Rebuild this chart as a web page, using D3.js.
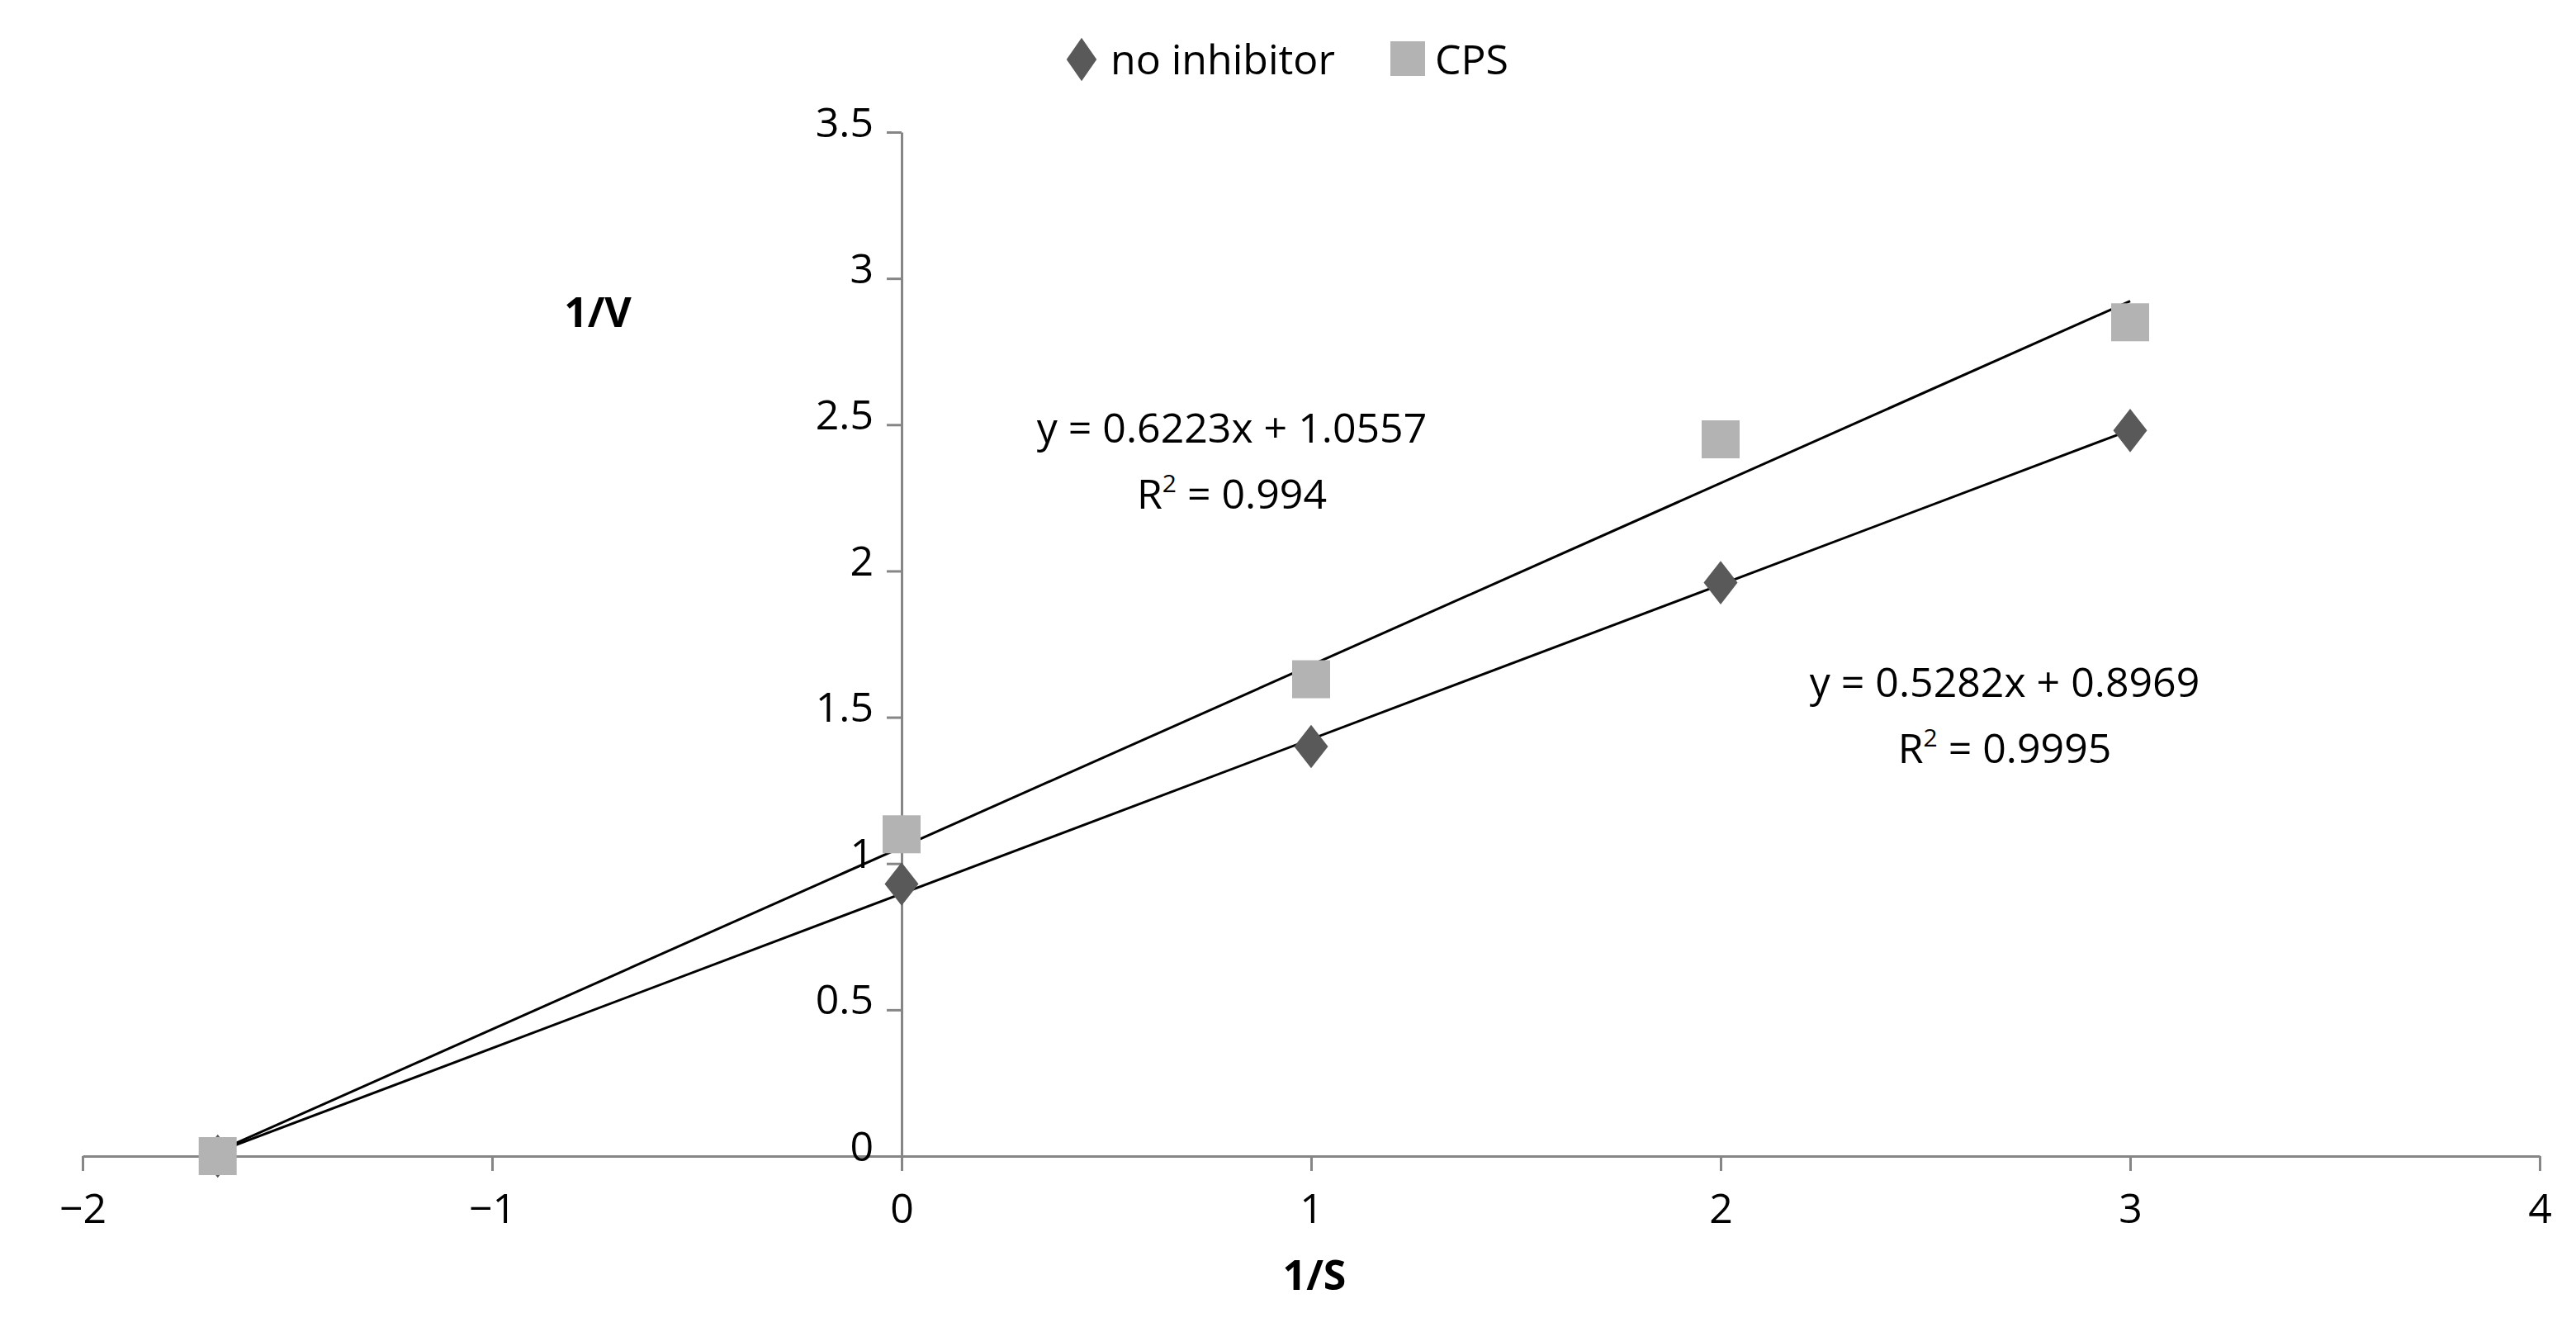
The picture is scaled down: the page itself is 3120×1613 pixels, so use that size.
<!DOCTYPE html>
<html><head><meta charset="utf-8">
<script src="https://cdn.jsdelivr.net/npm/d3@7"></script>
<style>body{margin:0;background:#fff}text{font-family:"Open Sans",sans-serif}</style>
</head><body><div id="chart"></div>
<script>
const WIDTH = 3120, HEIGHT = 1613;

const xValues = [-1.67, 0, 1, 2, 3];
const noInhibitor = [0, 0.93, 1.40, 1.96, 2.48];
const cps = [0, 1.10, 1.63, 2.45, 2.85];
const fitNoInhibitor = {m: 0.5282, b: 0.8969, label: 'y = 0.5282x + 0.8969', r2: '0.9995'};
const fitCps = {m: 0.6223, b: 1.0557, label: 'y = 0.6223x + 1.0557', r2: '0.994'};
const xTicks = [-2, -1, 0, 1, 2, 3, 4];
const yTicks = [0, 0.5, 1, 1.5, 2, 2.5, 3, 3.5];

const svg = d3.select('#chart').append('svg').attr('width', WIDTH).attr('height', HEIGHT);
const x = d3.scaleLinear().domain([-2, 4]).range([100, 3076]);
const y = d3.scaleLinear().domain([0, 3.5]).range([1400, 160]);
const axisColor = '#868686';
const FS = 50;

// x axis
const xAxis = svg.append('g').attr('transform', `translate(0,${y(0)})`)
  .call(d3.axisBottom(x).tickValues(xTicks).tickSize(18).tickSizeOuter(0).tickFormat(d => d < 0 ? '\u2212' + Math.abs(d) : String(d)));
xAxis.select('.domain').attr('stroke', axisColor).attr('stroke-width', 3);
xAxis.selectAll('line').attr('stroke', axisColor).attr('stroke-width', 3);
xAxis.selectAll('text').attr('font-size', FS).attr('fill', '#000').attr('dy', '1.2em');

// y axis
const yAxis = svg.append('g').attr('transform', `translate(${x(0)},0)`)
  .call(d3.axisLeft(y).tickValues(yTicks).tickSize(18).tickSizeOuter(0).tickFormat(d => String(d)));
yAxis.select('.domain').attr('stroke', axisColor).attr('stroke-width', 3);
yAxis.selectAll('line').attr('stroke', axisColor).attr('stroke-width', 3);
yAxis.selectAll('text').attr('font-size', FS).attr('fill', '#000').attr('x', -34).attr('dy', '0.1em');

// trend lines
[fitNoInhibitor, fitCps].forEach(f => {
  const x0 = -f.b / f.m, x1 = 3;
  svg.append('line').attr('x1', x(x0)).attr('y1', y(0)).attr('x2', x(x1)).attr('y2', y(f.m * x1 + f.b))
    .attr('stroke', '#000').attr('stroke-width', 3);
});

const diamond = d3.symbol().type(d3.symbolDiamond).size(800);
svg.append('g').selectAll('path').data(xValues).join('path')
  .attr('d', diamond).attr('fill', '#595959')
  .attr('transform', (d, i) => `translate(${x(d)},${y(noInhibitor[i])}) scale(1.35,1)`);
svg.append('g').selectAll('rect').data(xValues).join('rect')
  .attr('x', d => x(d) - 23).attr('y', (d, i) => y(cps[i]) - 23)
  .attr('width', 46).attr('height', 46).attr('fill', '#b3b3b3');

// legend
svg.append('path').attr('d', diamond).attr('fill', '#595959').attr('transform', 'translate(1310,72) scale(1.2,1)');
svg.append('text').attr('x', 1345).attr('y', 90).attr('font-size', FS).text('no inhibitor');
svg.append('rect').attr('x', 1684).attr('y', 50).attr('width', 42).attr('height', 42).attr('fill', '#b3b3b3');
svg.append('text').attr('x', 1738).attr('y', 90).attr('font-size', FS).text('CPS');

// axis titles
svg.append('text').attr('x', 724).attr('y', 396).attr('font-size', FS).attr('font-weight', 'bold').attr('text-anchor', 'middle').text('1/V');
svg.append('text').attr('x', 1592).attr('y', 1562).attr('font-size', FS).attr('font-weight', 'bold').attr('text-anchor', 'middle').text('1/S');

// equations
function eq(f, cx, cy) {
  svg.append('text').attr('x', cx).attr('y', cy).attr('font-size', FS).attr('text-anchor', 'middle').text(f.label);
  const t = svg.append('text').attr('x', cx).attr('y', cy + 80).attr('font-size', FS).attr('text-anchor', 'middle');
  t.append('tspan').text('R');
  t.append('tspan').attr('font-size', 30).attr('dy', -20).text('2');
  t.append('tspan').attr('dy', 20).text(' = ' + f.r2);
}
eq(fitCps, 1492, 536);
eq(fitNoInhibitor, 2428, 844);
</script></body></html>
